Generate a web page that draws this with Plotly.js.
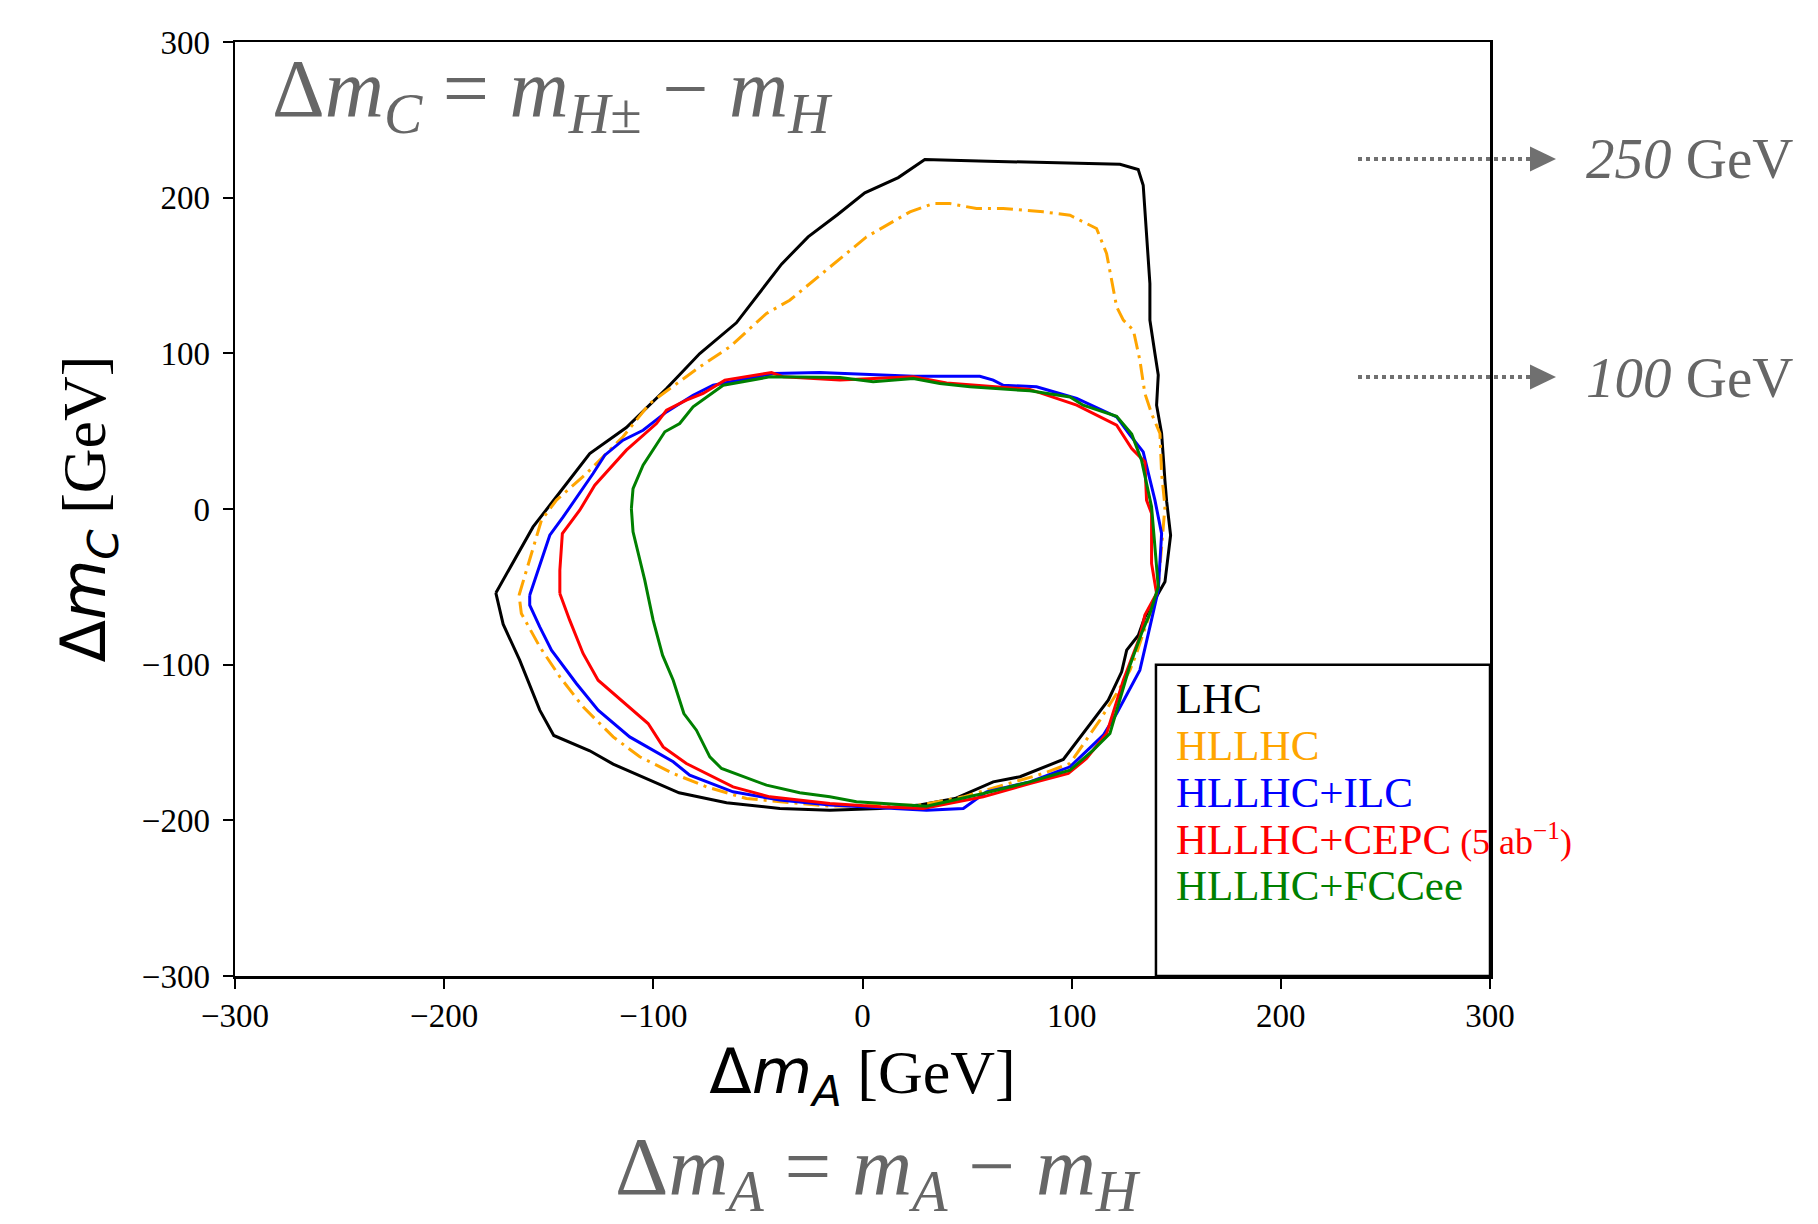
<!DOCTYPE html>
<html>
<head>
<meta charset="utf-8">
<script src="https://cdn.plot.ly/plotly-3.0.1.min.js"></script>
<style>html,body{margin:0;padding:0;background:#fff;}#chart{width:1818px;height:1224px;}</style>
</head>
<body>
<div id="chart"></div>
<script>
// ---- data (Δm_A, Δm_C in GeV) ----
const lhcX = [-175.3,-157.5,-148,-139,-130.4,-112.9,-93.7,-77.8,-60.3,-38.7,-26,-12,1.1,17.1,29.8,60,95,123.1,131.8,134.2,137.4,137.4,139.8,141.4,140.6,143,144.6,145.4,147.3,144.6,135,131.9,126.3,123.9,117.5,107.9,96,75.3,62.5,44.2,27.4,8.3,-15.6,-39.5,-65,-87.7,-103.3,-119.2,-130.4,-147.6,-154.3,-163.9,-171.8];
const lhcY = [-53.9,-11.5,5,20.7,35.6,52.3,77.4,99.9,119.6,157.3,174.8,189,203.1,212.9,224.5,223.4,222.5,221.5,218.1,208,144.8,121.3,99.9,86,66.7,48.5,18,5,-16.8,-46.8,-69.3,-81.1,-90.7,-104.6,-122.8,-139.9,-160.9,-172,-175.3,-186,-190.2,-192.4,-193.5,-192.4,-188.7,-182.3,-173.1,-163.9,-155.3,-145.5,-129.2,-97.1,-74];

const hllhcX = [-164.2,-159.1,-153.5,-146.3,-135.2,-132,-114.5,-101.7,-95.3,-77.8,-63.4,-45.9,-34.8,-10.8,1.9,22.7,33.8,41.8,54.5,67.3,86.4,99.2,111.9,116.7,121.5,124.7,129.5,132.6,135,138.2,142.2,143,144.6,143,141.4,137.4,131,127.9,121.5,113.5,99.2,86.4,64.1,48.2,27.4,-15.6,-55.5,-74.6,-90.5,-106.5,-119.2,-133.6,-144.7,-154.3,-163.1];
const hllhcY = [-55.4,-32.9,-7.2,5.7,18.5,22.8,46.4,67.8,74.2,91.3,104.2,125.6,134.1,160.9,174.8,190.9,196.2,196.2,193,193,190.9,188.7,180.2,164.1,129.9,121.3,114.9,95.6,74.2,61.3,48.5,22.8,1.4,-24.3,-50,-67.1,-92.8,-103.5,-118.5,-135.6,-163.5,-169.9,-178.5,-184.9,-190.2,-190.9,-186,-178.5,-169.9,-159.2,-146.4,-127.1,-107.8,-88.5,-67.1];

const ilcX = [-159.1,-149.5,-143.1,-135.2,-128.8,-123.2,-114.5,-104.9,-93.7,-81,-71.4,-42.7,-20.4,24.3,56.1,62.5,67.3,83.2,102.4,121.5,127.9,134.2,139.8,143,141.4,137.4,132.6,121.5,115.1,99.2,80,59.3,48.2,30.6,-15.6,-39.5,-61.9,-82.6,-90.5,-111.3,-126.4,-136.8,-148.7,-154.3,-159.1];
const ilcY = [-55.4,-16.8,-5.1,9.9,22.8,34.6,44.2,50.6,62.4,73.1,79.5,87,87.7,85.3,85.3,82.8,79.5,78.5,71,59.2,47.4,36.7,5.7,-15.8,-52.2,-75.7,-103.5,-131.4,-145.3,-165.6,-175.3,-181.7,-192.4,-193.5,-190.2,-187,-181.7,-171,-162.4,-146.4,-129.2,-112.1,-90.7,-75.7,-61.8];

const cepcX = [-144.7,-144.7,-143.5,-135.2,-128,-112.9,-98.5,-93.7,-84.2,-76.2,-65.8,-43.5,-37.9,-10.8,24.3,40.2,80,102.4,121.5,128.7,135,135.8,138.2,138.2,140.6,135,132.6,124.7,120.7,116.7,107.1,98.4,80,57.7,29,8.3,-15.6,-44.3,-61.9,-84.2,-95.3,-102.5,-126.4,-133.6,-140];
const cepcY = [-54.3,-39.3,-15.8,-0.8,15.3,37.8,54.9,63.5,69.9,74.2,82.8,87.7,84.9,82.8,84.9,81,76.8,66.7,53.9,38.9,30.3,5.7,-2.9,-35,-54.3,-68.2,-82.1,-110,-127.1,-144.2,-160.3,-169.9,-176.3,-184.9,-192.4,-191.3,-189.2,-184.9,-178.5,-163.5,-152.8,-137.8,-110,-92.8,-71.4];

const fccX = [-110.5,-109.7,-104.9,-94.5,-87.4,-81,-66.6,-44.3,-10.8,5.1,24.3,37,51.4,80,99.2,105.5,121.5,128.7,133.4,137.4,138.2,141.4,137.4,133.4,127.9,123.9,118.3,110.3,99.2,80,57.7,30.6,-2.9,-15.6,-30,-45.9,-67.4,-73,-79.4,-85.4,-90.5,-95.6,-100.1,-104.1,-109.7];
const fccY = [0.3,13.1,28.2,49.6,54.9,65.6,79.5,84.9,84.5,81.7,83.8,80.6,78.5,75.9,72,66.7,59.6,48.1,31.4,5.7,1.4,-50,-67.1,-80,-100.3,-118.5,-144.2,-154.9,-167.8,-175.3,-182.8,-190.9,-188.1,-184.9,-182.3,-177.4,-166.7,-159.2,-142.1,-131.4,-110,-93.9,-71.4,-45.7,-14.7];

const seriesNames = ['LHC','HLLHC','HLLHC+ILC','HLLHC+CEPC','HLLHC+FCCee'];
const seriesColors = ['#000000','#FFA500','#0000FF','#FF0000','#008000'];
const tickVals = [-300,-200,-100,0,100,200,300];
const tickText = ['\u2212300','\u2212200','\u2212100','0','100','200','300'];
const markerLevels = [250,100];   // right-side guide labels (GeV)

// ---- build ----
const close = a => a.concat([a[0]]);
const xs = [lhcX,hllhcX,ilcX,cepcX,fccX];
const ys = [lhcY,hllhcY,ilcY,cepcY,fccY];
const traces = xs.map((x,i)=>({
  type:'scatter', mode:'lines', name:seriesNames[i],
  x:close(x), y:close(ys[i]),
  line:{color:seriesColors[i], width:3, dash: i===1 ? '16px,6px,3px,6px' : 'solid'},
  hoverinfo:'skip', showlegend:false
}));

const SERIF = 'Liberation Serif, Times New Roman, serif';
const GRAY = '#666666';
const L=235, R=328, T=42, B=248, W=1818, H=1224;
const pw = W-L-R, ph = H-T-B;
const px2x = X => (X-L)/pw;
const px2y = Y => (H-B-Y)/ph;

const annotations = [];
// legend entries
const legendTexts = ['LHC','HLLHC','HLLHC+ILC','HLLHC+CEPC<span style="font-size:36px"> (5 ab<sup>\u22121</sup>)</span>','HLLHC+FCCee'];
legendTexts.forEach((t,i)=>{
  annotations.push({xref:'paper',yref:'paper',x:px2x(1174),y:px2y(698+i*47),xanchor:'left',yanchor:'middle',
    text:t,showarrow:false,font:{family:SERIF,size:43,color:seriesColors[i]}});
});
// formula annotations
annotations.push({xref:'paper',yref:'paper',x:px2x(270),y:px2y(94),xanchor:'left',yanchor:'middle',showarrow:false,
  text:'\u0394<i>m</i><sub><i>C</i></sub> = <i>m</i><sub><i>H</i>\u00b1</sub> \u2212 <i>m</i><sub><i>H</i></sub>',
  font:{family:SERIF,size:82,color:GRAY}});
annotations.push({xref:'paper',yref:'paper',x:px2x(878),y:px2y(1172),xanchor:'center',yanchor:'middle',showarrow:false,
  text:'\u0394<i>m</i><sub><i>A</i></sub> = <i>m</i><sub><i>A</i></sub> \u2212 <i>m</i><sub><i>H</i></sub>',
  font:{family:SERIF,size:83,color:GRAY}});
// right-side guides
const guideY = [159,377];
const shapes = [];
markerLevels.forEach((v,i)=>{
  annotations.push({xref:'paper',yref:'paper',x:px2x(1584),y:px2y(guideY[i]),xanchor:'left',yanchor:'middle',showarrow:false,
    text:'<i>'+v+'</i> GeV',font:{family:SERIF,size:57,color:GRAY}});
  shapes.push({type:'line',xref:'paper',yref:'paper',x0:px2x(1358),x1:px2x(1530),y0:px2y(guideY[i]),y1:px2y(guideY[i]),
    line:{color:'#707070',width:4,dash:'4px,4px'}});
  const hx0=px2x(1530), hx1=px2x(1556), hy=px2y(guideY[i]), dh=12.5/ph;
  shapes.push({type:'path',xref:'paper',yref:'paper',
    path:`M ${hx0} ${hy+dh} L ${hx1} ${hy} L ${hx0} ${hy-dh} Z`,fillcolor:'#707070',line:{color:'#707070',width:0}});
});
// legend frame
shapes.push({type:'rect',xref:'x',yref:'y',x0:140.3,x1:300,y0:-300,y1:-100,line:{color:'#000',width:2.5},fillcolor:'rgba(0,0,0,0)'});

const axisCommon = {
  range:[-300,300], tickmode:'array', tickvals:tickVals, ticktext:tickText,
  ticks:'outside', ticklen:10, tickwidth:2, tickcolor:'#000',
  showline:true, mirror:true, linecolor:'#000', linewidth:2.5,
  showgrid:false, zeroline:false,
  tickfont:{family:SERIF,size:33,color:'#000'}
};
const layout = {
  width:W, height:H, margin:{l:L,r:R,t:T,b:B,pad:0},
  paper_bgcolor:'#fff', plot_bgcolor:'#fff', showlegend:false,
  xaxis:Object.assign({}, axisCommon, {ticklabelstandoff:-1, title:{text:'<span style="font-family:DejaVu Sans">\u0394<i>m</i><sub><i>A</i></sub></span> [GeV]',
    font:{family:SERIF,size:62,color:'#000'},standoff:17}}),
  yaxis:Object.assign({}, axisCommon, {ticklabelstandoff:6, title:{text:'<span style="font-family:DejaVu Sans">\u0394<i>m</i><sub><i>C</i></sub></span> [GeV]',
    font:{family:SERIF,size:62,color:'#000'},standoff:16}}),
  annotations:annotations, shapes:shapes
};
Plotly.newPlot('chart', traces, layout, {displayModeBar:false, staticPlot:true});
</script>
</body>
</html>
